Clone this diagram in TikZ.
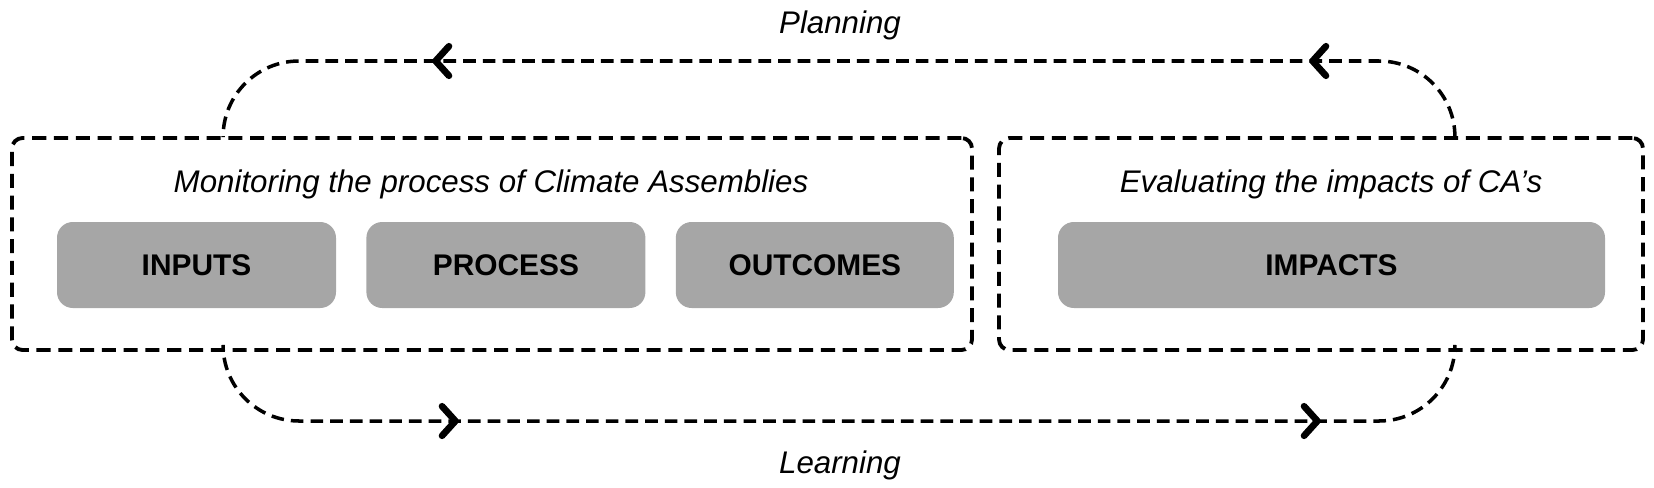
\documentclass[tikz,border=0pt]{standalone}
\usepackage{fontspec}
\setmainfont{Liberation Sans}
\usetikzlibrary{arrows.meta,positioning,decorations.markings}
\definecolor{stagegray}{HTML}{A6A6A6}
\tikzset{
  panel/.style={draw, dashed, line width=1.1pt, dash pattern=on 4pt off 2.2pt,
    rounded corners=3pt, minimum height=2.12cm},
  stagebox/.style={fill=stagegray, rounded corners=4.5pt, minimum height=0.86cm,
    font=\fontsize{8.5}{10}\selectfont\bfseries},
  caption/.style={font=\fontsize{8.9}{10}\selectfont\itshape},
  chevtip/.tip={Straight Barb[length=3.8pt, width=8.4pt, line width=1.9pt, round]},
  cyclearr/.style={line width=1pt, dash pattern=on 3.6pt off 2pt, rounded corners=0.76cm}
}
\begin{document}
\begin{tikzpicture}
  \useasboundingbox (0,0) rectangle (16.54,4.87);
  % the two dashed panels
  \node[panel, minimum width=9.60cm] (mon) at (4.92,2.43) {};
  \node[panel, minimum width=6.44cm] (eva) at (13.21,2.43) {};
  \node[caption] (monlabel) at (4.91,3.03) {Monitoring the process of Climate Assemblies};
  \node[caption] (evalabel) at (13.31,3.03) {Evaluating the impacts of CA’s};
  % grey stages
  \node[stagebox, minimum width=2.79cm] (inputs) at (1.965,2.22) {INPUTS};
  \node[stagebox, minimum width=2.79cm, right=0.29cm of inputs] (process) {PROCESS};
  \node[stagebox, minimum width=2.78cm, right=0.29cm of process] (outcomes) {OUTCOMES};
  \node[stagebox, minimum width=5.47cm] (impacts) at (13.315,2.22) {IMPACTS};
  % feedback loops
  \coordinate (monTop) at ([xshift=2.13cm]mon.north west);
  \coordinate (monBot) at ([xshift=2.13cm]mon.south west);
  \coordinate (evaTop) at ([xshift=-1.90cm]eva.north east);
  \coordinate (evaBot) at ([xshift=-1.90cm]eva.south east);
  \coordinate (planLine) at (0,4.26);
  \coordinate (learnLine) at (0,0.66);
  \draw[cyclearr, postaction={decorate, decoration={markings,
      mark=at position 1.90cm with {\arrow{chevtip}},
      mark=at position 10.67cm with {\arrow{chevtip}}}}]
    (evaTop) -- (evaTop |- planLine) -- (monTop |- planLine) -- (monTop);
  \draw[cyclearr, postaction={decorate, decoration={markings,
      mark=at position 2.86cm with {\arrow{chevtip}},
      mark=at position 11.48cm with {\arrow{chevtip}}}}]
    (monBot) -- (monBot |- learnLine) -- (evaBot |- learnLine) -- (evaBot);
  \node[caption] (planning) at (8.40,4.62) {Planning};
  \node[caption] (learning) at (8.40,0.22) {Learning};
\end{tikzpicture}
\end{document}
